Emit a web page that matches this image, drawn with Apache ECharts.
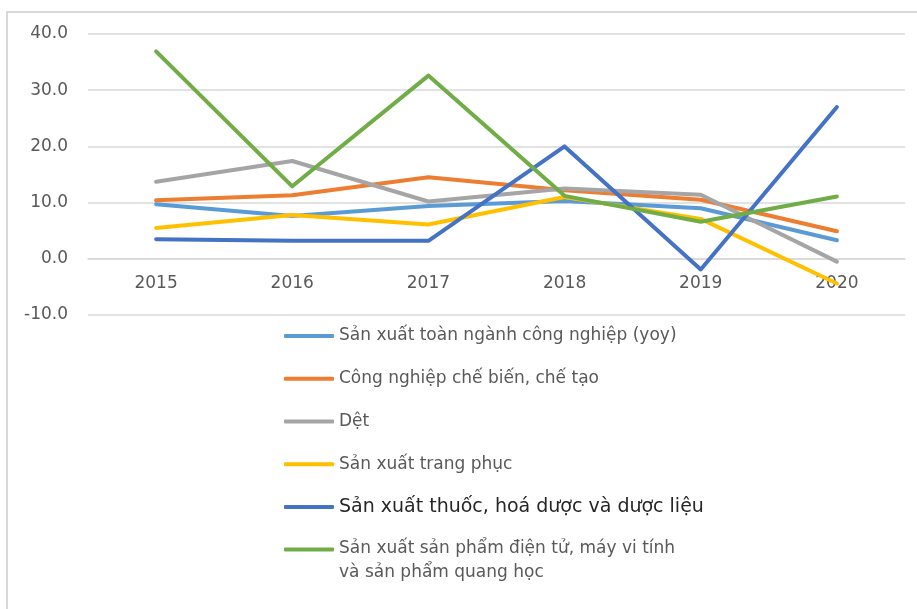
<!DOCTYPE html>
<html>
<head>
<meta charset="utf-8">
<script src="https://cdn.jsdelivr.net/npm/echarts@6/dist/echarts.min.js"></script>
<style>
    html, body { margin: 0; padding: 0; background: #fff; }
    #chart { width: 917px; height: 609px; }
</style>
</head>
<body>
<div id="chart"></div>
<script>
const years = ['2015', '2016', '2017', '2018', '2019', '2020'];

// % tăng trưởng theo năm
const toanNganh = [9.7, 7.6, 9.4, 10.3, 9.0, 3.3];
const cheBien = [10.4, 11.3, 14.5, 12.2, 10.5, 4.9];
const det = [13.7, 17.4, 10.2, 12.5, 11.4, -0.5];
const trangPhuc = [5.5, 7.8, 6.1, 11.0, 7.1, -4.4];
const thuoc = [3.5, 3.2, 3.2, 20.0, -1.9, 27.0];
const dienTu = [36.9, 12.9, 32.6, 11.2, 6.6, 11.1];

const names = [
    'Sản xuất toàn ngành công nghiệp (yoy)',
    'Công nghiệp chế biến, chế tạo',
    'Dệt',
    'Sản xuất trang phục',
    'Sản xuất thuốc, hoá dược và dược liệu',
    'Sản xuất sản phẩm điện tử, máy vi tính\nvà sản phẩm quang học'
];
const colors = ['#5B9BD5', '#ED7D31', '#A5A5A5', '#FFC000', '#4472C4', '#70AD47'];
const values = [toanNganh, cheBien, det, trangPhuc, thuoc, dienTu];

const yMin = -10;
const yMax = 40;

const font = 'DejaVu Sans';
const chart = echarts.init(document.getElementById('chart'));

const gridTop = 34;
const gridBottom = 294;
const plotH = 609 - gridTop - gridBottom;
// đưa trục x lên vị trí 0
const xOffset = -plotH * (0 - yMin) / (yMax - yMin);

const legendBase = {
    orient: 'vertical',
    left: 284,
    padding: 0,
    icon: 'roundRect',
    itemWidth: 50,
    itemHeight: 4,
    itemGap: 19.75,
    textStyle: {
        fontFamily: font,
        fontSize: 17,
        color: '#595959',
        lineHeight: 23
    }
};

const option = {
    backgroundColor: '#fff',
    animation: false,
    graphic: [{
        type: 'rect',
        shape: { x: 7, y: 12, width: 1000, height: 700 },
        style: { fill: 'none', stroke: '#d9d9d9', lineWidth: 2 },
        silent: true
    }],
    grid: {
        left: 88,
        right: 12,
        top: gridTop,
        bottom: gridBottom
    },
    legend: [
        Object.assign({}, legendBase, {
            top: 324.5,
            height: 260,
            data: names.slice(0, 5).map((n, i) => i === 4
                ? { name: n, textStyle: { fontSize: 19, color: '#262626' } }
                : { name: n })
        }),
        // mục cuối: 2 dòng, dòng đầu ngang với ký hiệu
        Object.assign({}, legendBase, {
            top: 526,
            data: [names[5]],
            formatter: n => {
                const parts = n.split('\n');
                return '{a|' + parts[0] + '}\n{b|' + parts[1] + '}';
            },
            textStyle: Object.assign({}, legendBase.textStyle, {
                rich: {
                    a: { fontFamily: font, fontSize: 17, color: '#595959', lineHeight: 46 },
                    b: { fontFamily: font, fontSize: 17, color: '#595959', lineHeight: 1 }
                }
            })
        })
    ],
    xAxis: {
        type: 'category',
        data: years,
        offset: xOffset,
        axisLine: {
            onZero: false,
            lineStyle: { color: '#d9d9d9', width: 1.5 }
        },
        axisTick: { show: false },
        axisLabel: {
            margin: 16,
            color: '#595959',
            fontFamily: font,
            fontSize: 17
        }
    },
    yAxis: {
        type: 'value',
        min: yMin,
        max: yMax,
        interval: 10,
        axisLine: { show: false },
        axisTick: { show: false },
        axisLabel: {
            margin: 20,
            color: '#595959',
            fontFamily: font,
            fontSize: 17,
            formatter: v => v.toFixed(1)
        },
        splitLine: {
            lineStyle: { color: '#d9d9d9', width: 1.5 }
        }
    },
    series: names.map((n, i) => ({
        name: n,
        type: 'line',
        data: values[i],
        symbol: 'none',
        color: colors[i],
        lineStyle: { width: 4, cap: 'round', join: 'round' }
    }))
};

chart.setOption(option);
</script>
</body>
</html>
